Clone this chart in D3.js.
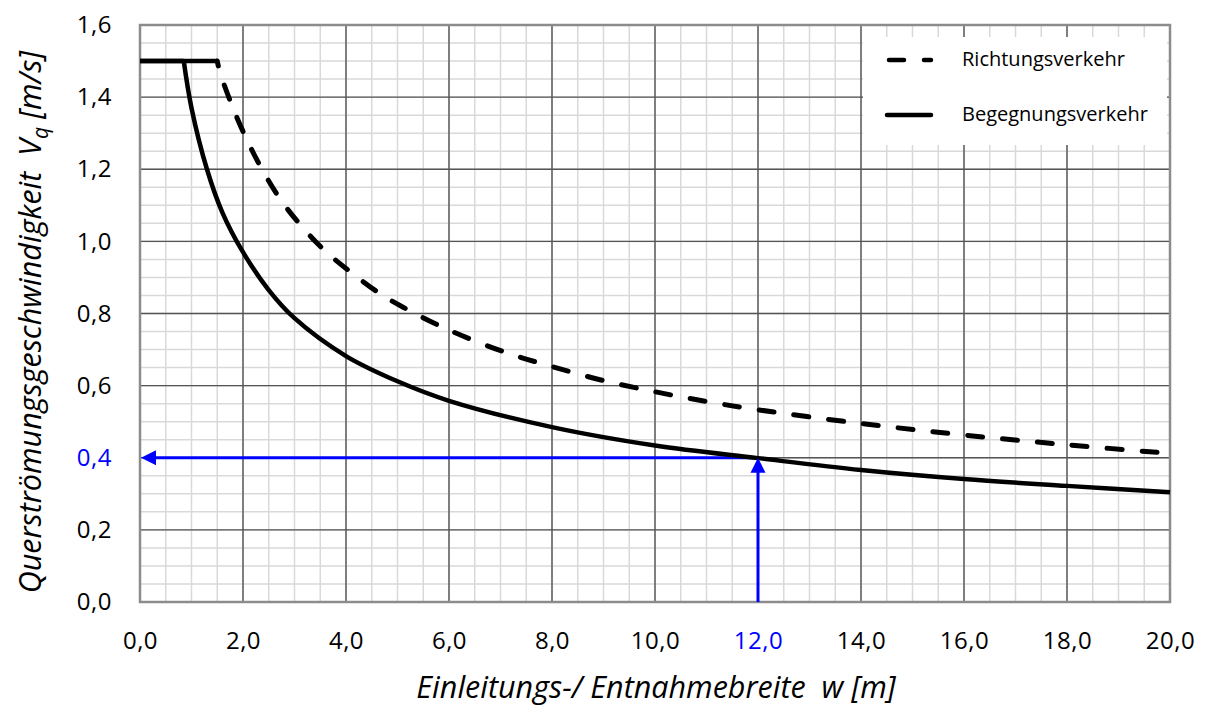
<!DOCTYPE html>
<html>
<head>
<meta charset="utf-8">
<script src="https://cdn.jsdelivr.net/npm/d3@7"></script>
<style>
  body { margin: 0; background: #fff; }
  svg { display: block; }
  text { font-family: "Open Sans", "Liberation Sans", sans-serif; white-space: pre; }
</style>
</head>
<body>
<svg id="chart"></svg>
<script>
// values
var xTicks = [0, 2, 4, 6, 8, 10, 12, 14, 16, 18, 20];
var yTicks = [0, 0.2, 0.4, 0.6, 0.8, 1.0, 1.2, 1.4, 1.6];
var markW = 12.0;
var markV = 0.4;

var wRichtung = [0, 1.5, 1.55, 1.75, 2.0, 2.33, 2.72, 3.1, 3.56, 4.08, 4.66, 5.1, 6.0, 7.1, 8.0, 9.0, 10.0, 11.0, 12.0, 14.0, 16.0, 18.0, 20.0];
var vRichtung = [1.5, 1.5, 1.47, 1.39, 1.305, 1.21, 1.118, 1.048, 0.978, 0.916, 0.855, 0.818, 0.754, 0.692, 0.653, 0.614, 0.583, 0.556, 0.533, 0.495, 0.463, 0.436, 0.412];

var wBegegnung = [0, 0.85, 1.0, 1.3, 1.6, 2.0, 2.5, 3.0, 4.0, 5.0, 6.0, 8.0, 10.0, 12.0, 14.0, 16.0, 18.0, 20.0];
var vBegegnung = [1.5, 1.5, 1.37, 1.2, 1.08, 0.97, 0.865, 0.787, 0.682, 0.612, 0.558, 0.485, 0.434, 0.399, 0.366, 0.341, 0.322, 0.304];

var legendNames = ["Richtungsverkehr", "Begegnungsverkehr"];

drawGraph();

function drawGraph() {
  var svg_width = 1205;
  var svg_height = 706;
  var margin = { top: 25, right: 35, bottom: 104, left: 140 };
  var width = svg_width - margin.left - margin.right;
  var height = svg_height - margin.top - margin.bottom;

  var svg = d3.select("#chart")
    .attr("width", svg_width)
    .attr("height", svg_height);

  var g = svg.append("g")
    .attr("transform", "translate(" + margin.left + "," + margin.top + ")");

  var x = d3.scaleLinear().domain([0, 20]).range([0, width]);
  var y = d3.scaleLinear().domain([0, 1.6]).range([height, 0]);

  var de = d3.formatLocale({ decimal: ",", thousands: ".", grouping: [3], currency: ["", " €"] });
  var fmt = de.format(".1f");

  // minor grid
  g.append("g").selectAll("line")
    .data(d3.range(0.5, 20, 0.5))
    .join("line")
    .attr("x1", function(d) { return x(d); })
    .attr("x2", function(d) { return x(d); })
    .attr("y1", 0).attr("y2", height)
    .attr("stroke", "#d9d9d9").attr("stroke-width", 1.5);
  g.append("g").selectAll("line")
    .data(d3.range(0.05, 1.6, 0.05))
    .join("line")
    .attr("y1", function(d) { return y(d); })
    .attr("y2", function(d) { return y(d); })
    .attr("x1", 0).attr("x2", width)
    .attr("stroke", "#d9d9d9").attr("stroke-width", 1.5);

  // major grid
  g.append("g").selectAll("line")
    .data(xTicks.slice(1, -1))
    .join("line")
    .attr("x1", function(d) { return x(d); })
    .attr("x2", function(d) { return x(d); })
    .attr("y1", 0).attr("y2", height)
    .attr("stroke", "#555").attr("stroke-width", 1.4);
  g.append("g").selectAll("line")
    .data(yTicks.slice(1, -1))
    .join("line")
    .attr("y1", function(d) { return y(d); })
    .attr("y2", function(d) { return y(d); })
    .attr("x1", 0).attr("x2", width)
    .attr("stroke", "#555").attr("stroke-width", 1.4);

  // border
  g.append("rect")
    .attr("width", width).attr("height", height)
    .attr("fill", "none")
    .attr("stroke", "#8c8c8c").attr("stroke-width", 2.5);

  // axes (labels only)
  var xAxis = g.append("g")
    .attr("transform", "translate(0," + height + ")")
    .call(d3.axisBottom(x).tickValues(xTicks).tickFormat(fmt).tickSize(0).tickPadding(30));
  xAxis.select(".domain").remove();
  xAxis.selectAll("text")
    .attr("font-size", 24)
    .attr("font-family", "Open Sans")
    .attr("letter-spacing", 0.5)
    .attr("fill", function(d) { return d === markW ? "#0000ff" : "#000"; });

  var yAxis = g.append("g")
    .call(d3.axisLeft(y).tickValues(yTicks).tickFormat(fmt).tickSize(0).tickPadding(28));
  yAxis.select(".domain").remove();
  yAxis.selectAll("text")
    .attr("font-size", 24)
    .attr("font-family", "Open Sans")
    .attr("letter-spacing", 0.5)
    .attr("fill", function(d) { return d === markV ? "#0000ff" : "#000"; });

  // axis titles
  svg.append("text")
    .attr("x", 656).attr("y", 698)
    .attr("text-anchor", "middle")
    .attr("font-size", 30.5)
    .attr("font-style", "italic")
    .text("Einleitungs-/ Entnahmebreite  w [m]");

  var yt = svg.append("text")
    .attr("transform", "translate(41," + 322 + ") rotate(-90)")
    .attr("text-anchor", "middle")
    .attr("font-size", 30.5)
    .attr("font-style", "italic");
  yt.append("tspan").text("Querströmungsgeschwindigkeit  V");
  yt.append("tspan").attr("font-size", 21).attr("dy", 7).text("q");
  yt.append("tspan").attr("dy", -7).text(" [m/s]");

  // legend box
  var lg = g.append("g");
  lg.append("rect")
    .attr("x", x(14) + 2).attr("y", 12)
    .attr("width", width - x(14) - 5).attr("height", 108)
    .attr("fill", "#fff");

  // blue helper lines
  var blue = "#0000ff";
  g.append("line")
    .attr("x1", x(markW)).attr("x2", x(0) + 12)
    .attr("y1", y(markV)).attr("y2", y(markV))
    .attr("stroke", blue).attr("stroke-width", 3);
  g.append("line")
    .attr("x1", x(markW)).attr("x2", x(markW))
    .attr("y1", y(0)).attr("y2", y(markV) + 12)
    .attr("stroke", blue).attr("stroke-width", 3);

  // curves
  var line = d3.line()
    .x(function(d) { return x(d[0]); })
    .y(function(d) { return y(d[1]); });
  var curve = d3.line()
    .curve(d3.curveCatmullRom.alpha(0.5))
    .x(function(d) { return x(d[0]); })
    .y(function(d) { return y(d[1]); });

  var rPts = d3.zip(wRichtung, vRichtung);
  var bPts = d3.zip(wBegegnung, vBegegnung);

  g.append("path")
    .attr("d", line(rPts.slice(0, 2)))
    .attr("fill", "none").attr("stroke", "#000").attr("stroke-width", 4.5);
  g.append("path")
    .attr("d", curve(rPts.slice(1)))
    .attr("fill", "none").attr("stroke", "#000").attr("stroke-width", 5)
    .attr("stroke-linecap", "round")
    .attr("stroke-dasharray", "15,20")
    .attr("stroke-dashoffset", 10);
  g.append("path")
    .attr("d", line(bPts.slice(0, 2)))
    .attr("fill", "none").attr("stroke", "#000").attr("stroke-width", 4.5);
  g.append("path")
    .attr("d", curve(bPts.slice(1)))
    .attr("fill", "none").attr("stroke", "#000").attr("stroke-width", 4.5);

  // arrow heads
  var xa = x(markW), ya = y(markV);
  g.append("path")
    .attr("d", "M" + xa + "," + ya + "l-7.5,15h15z")
    .attr("fill", blue);
  var xb = x(0) + 1;
  g.append("path")
    .attr("d", "M" + xb + "," + ya + "l15,-7.5v15z")
    .attr("fill", blue);

  // legend entries
  var items = lg.selectAll("g.item")
    .data(legendNames)
    .join("g")
    .attr("transform", function(d, i) { return "translate(" + (x(14) + 26) + "," + (35 + i * 55) + ")"; });
  items.append("line")
    .attr("x1", 0).attr("x2", 44)
    .attr("stroke", "#000").attr("stroke-width", 4.5)
    .attr("stroke-linecap", "round")
    .attr("stroke-dasharray", function(d, i) { return i === 0 ? "15,20" : null; })
    .attr("stroke-dashoffset", function(d, i) { return i === 0 ? -2 : null; });
  items.append("text")
    .attr("x", 75).attr("y", 0)
    .attr("dy", "0.32em")
    .attr("font-size", 20)
    .text(function(d) { return d; });
}
</script>
</body>
</html>
